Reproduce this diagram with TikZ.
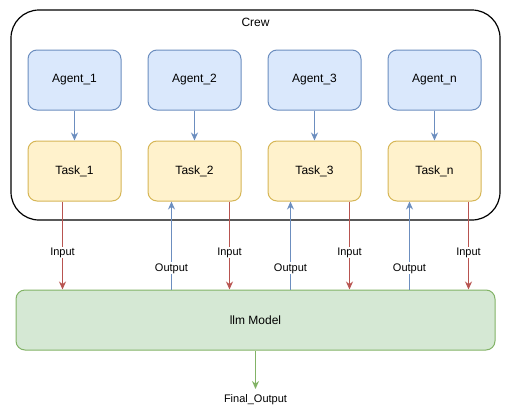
\documentclass[tikz,border=0pt]{standalone}
\usepackage{fontspec}
\setmainfont{Liberation Sans}
\usepackage{tikz}
\usetikzlibrary{arrows.meta,positioning}

\definecolor{agentfill}{HTML}{DAE8FC}
\definecolor{agentline}{HTML}{6C8EBF}
\definecolor{taskfill}{HTML}{FFF2CC}
\definecolor{taskline}{HTML}{D6B656}
\definecolor{llmfill}{HTML}{D5E8D4}
\definecolor{llmline}{HTML}{82B366}
\definecolor{inline}{HTML}{B85450}

\tikzset{
  agent/.style={draw=agentline, fill=agentfill, rounded corners=9pt,
    minimum width=93pt, minimum height=60pt, font=\fontsize{12}{14}\selectfont},
  task/.style={draw=taskline, fill=taskfill, rounded corners=9pt,
    minimum width=93pt, minimum height=60pt, font=\fontsize{12}{14}\selectfont},
  lbl/.style={fill=white, inner sep=1pt, font=\fontsize{11}{13}\selectfont},
  inarr/.style={draw=inline, -{Stealth[length=8pt,width=7pt]}},
  outarr/.style={draw=agentline, -{Stealth[length=8pt,width=7pt]}}
}

\begin{document}
\begin{tikzpicture}[x=1pt, y=1pt, line width=1pt]
\useasboundingbox (0,0) rectangle (511,-418);

\node [draw, line width=1.2pt, rounded corners=28pt, minimum width=489pt, minimum height=210pt] (crew) at (255.5,-115) {};
\node [font=\fontsize{12}{14}\selectfont] (crewlbl) at (255.5,-22) {Crew};

\node [agent] (a1) at (74.5,-80) {Agent\_1};
\node [agent] (a2) at (194.5,-80) {Agent\_2};
\node [agent] (a3) at (314.5,-80) {Agent\_3};
\node [agent] (an) at (434.5,-80) {Agent\_n};

\node [task, below=30pt of a1] (t1) {Task\_1};
\node [task, below=30pt of a2] (t2) {Task\_2};
\node [task, below=30pt of a3] (t3) {Task\_3};
\node [task, below=30pt of an] (tn) {Task\_n};

\draw [outarr] (a1) -- (t1);
\draw [outarr] (a2) -- (t2);
\draw [outarr] (a3) -- (t3);
\draw [outarr] (an) -- (tn);

\node [draw=llmline, fill=llmfill, rounded corners=9pt, minimum width=479pt, minimum height=60pt,
  font=\fontsize{12}{14}\selectfont] (llm) at (255.5,-320) {llm Model};

\draw [inarr] ([xshift=-12pt]t1.south) -- node [lbl, pos=0.58] {Input} ([xshift=-12pt]t1.south |- llm.north);
\draw [outarr] ([xshift=-23pt]t2.south |- llm.north) -- node [lbl, pos=0.24] {Output} ([xshift=-23pt]t2.south);
\draw [inarr] ([xshift=35pt]t2.south) -- node [lbl, pos=0.58] {Input} ([xshift=35pt]t2.south |- llm.north);
\draw [outarr] ([xshift=-24pt]t3.south |- llm.north) -- node [lbl, pos=0.24] {Output} ([xshift=-24pt]t3.south);
\draw [inarr] ([xshift=35pt]t3.south) -- node [lbl, pos=0.58] {Input} ([xshift=35pt]t3.south |- llm.north);
\draw [outarr] ([xshift=-25pt]tn.south |- llm.north) -- node [lbl, pos=0.24] {Output} ([xshift=-25pt]tn.south);
\draw [inarr] ([xshift=34pt]tn.south) -- node [lbl, pos=0.58] {Input} ([xshift=34pt]tn.south |- llm.north);

\coordinate (fend) at (255.5,-389);
\node [font=\fontsize{11}{13}\selectfont] (final) at (255.5,-400) {Final\_Output};
\draw [draw=llmline, -{Stealth[length=8pt,width=7pt]}] (llm.south) -- (fend);
\end{tikzpicture}
\end{document}
